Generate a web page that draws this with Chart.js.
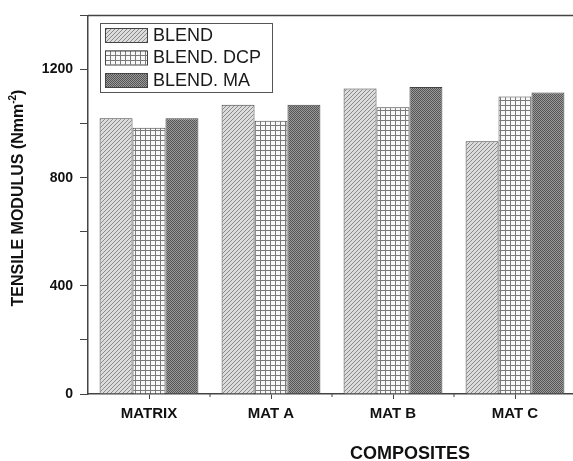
<!DOCTYPE html>
<html><head><meta charset="utf-8">
<script src="https://cdn.jsdelivr.net/npm/chart.js@4/dist/chart.umd.min.js"></script>
<style>html,body{margin:0;padding:0;background:#fff;overflow:hidden;}canvas{display:block;}</style>
</head><body>
<canvas id="c" width="580" height="461"></canvas>
<script>
const categories = ['MATRIX', 'MAT A', 'MAT B', 'MAT C'];
const seriesNames = ['BLEND', 'BLEND. DCP', 'BLEND. MA'];
const blend = [1020, 1070, 1130, 935];
const blendDCP = [985, 1010, 1060, 1100];
const blendMA = [1020, 1070, 1135, 1115];
const yTicks = [0, 400, 800, 1200];
const xTitle = 'COMPOSITES';
const yTitle = 'TENSILE MODULUS (Nmm';
const yTitleSup = '-2';

function makePattern(kind) {
  const c = document.createElement('canvas');
  const ctx = c.getContext('2d');
  if (kind === 'diag') {
    c.width = 4; c.height = 4;
    ctx.fillStyle = '#dcdcdc'; ctx.fillRect(0,0,4,4);
    ctx.strokeStyle = '#8a8a8a'; ctx.lineWidth = 1;
    ctx.beginPath();
    ctx.moveTo(-1,5); ctx.lineTo(5,-1);
    ctx.moveTo(-1,1); ctx.lineTo(1,-1);
    ctx.moveTo(3,5); ctx.lineTo(5,3);
    ctx.stroke();
  } else if (kind === 'grid') {
    c.width = 5; c.height = 5;
    ctx.fillStyle = '#f8f8f8'; ctx.fillRect(0,0,5,5);
    ctx.fillStyle = '#7a7a7a';
    ctx.fillRect(0,0,5,1); ctx.fillRect(0,0,1,5);
  } else {
    c.width = 2; c.height = 2;
    ctx.fillStyle = '#9a9a9a'; ctx.fillRect(0,0,2,2);
    ctx.fillStyle = '#555'; ctx.fillRect(0,0,1,1); ctx.fillRect(1,1,1,1);
  }
  return ctx.createPattern(c, 'repeat');
}
const patterns = [makePattern('diag'), makePattern('grid'), makePattern('dots')];
const FONT = '"Liberation Sans", Arial, sans-serif';

const extras = {
  id: 'extras',
  afterDraw(chart) {
    const ctx = chart.ctx, a = chart.chartArea, xs = chart.scales.x;
    ctx.save();
    ctx.strokeStyle = '#444'; ctx.lineWidth = 1.5;
    ctx.beginPath(); ctx.moveTo(a.left, a.top); ctx.lineTo(a.right, a.top); ctx.stroke();
    ctx.lineWidth = 1;
    const step = xs.getPixelForValue(1) - xs.getPixelForValue(0);
    for (let i = 0; i < categories.length; i++) {
      const px = xs.getPixelForValue(i) + step / 2;
      ctx.beginPath(); ctx.moveTo(px, a.bottom); ctx.lineTo(px, a.bottom + 3); ctx.stroke();
    }
    const lx = 100, ly = 23, lw = 172, lh = 69;
    ctx.fillStyle = '#fff'; ctx.fillRect(lx, ly, lw, lh);
    ctx.strokeStyle = '#555'; ctx.lineWidth = 1;
    ctx.strokeRect(lx + 0.5, ly + 0.5, lw, lh);
    ctx.font = '18px ' + FONT;
    ctx.textBaseline = 'middle'; ctx.textAlign = 'left';
    chart.data.datasets.forEach((ds, i) => {
      const cy = 35 + i * 22.5;
      ctx.fillStyle = ds.backgroundColor;
      ctx.fillRect(105, cy - 7, 42, 14);
      ctx.strokeStyle = '#444';
      ctx.strokeRect(105.5, cy - 6.5, 42, 14);
      ctx.fillStyle = '#1a1a1a';
      ctx.fillText(ds.label, 153, cy + 1);
    });
    ctx.font = 'bold 18px ' + FONT;
    ctx.fillStyle = '#111'; ctx.textAlign = 'center';
    ctx.fillText(xTitle, 410, 454);
    ctx.translate(19, 198);
    ctx.rotate(-Math.PI / 2);
    ctx.font = 'bold 16px ' + FONT;
    const w1 = ctx.measureText(yTitle).width;
    ctx.font = 'bold 10px ' + FONT;
    const w2 = ctx.measureText(yTitleSup).width;
    ctx.font = 'bold 16px ' + FONT;
    const w3 = ctx.measureText(')').width;
    let x0 = -(w1 + w2 + w3) / 2;
    ctx.textAlign = 'left';
    ctx.fillText(yTitle, x0, 0);
    ctx.font = 'bold 10px ' + FONT;
    ctx.fillText(yTitleSup, x0 + w1, -6);
    ctx.font = 'bold 16px ' + FONT;
    ctx.fillText(')', x0 + w1 + w2, 0);
    ctx.restore();
  }
};

new Chart(document.getElementById('c'), {
  type: 'bar',
  data: {
    labels: categories,
    datasets: [blend, blendDCP, blendMA].map((d, i) => ({
      label: seriesNames[i],
      data: d,
      backgroundColor: patterns[i],
      borderColor: '#444',
      borderWidth: 1,
      barPercentage: 1,
      categoryPercentage: 0.81
    }))
  },
  options: {
    responsive: false,
    animation: false,
    layout: { padding: { top: 11, right: 4, left: 0, bottom: 0 } },
    plugins: { legend: { display: false }, tooltip: { enabled: false } },
    scales: {
      x: {
        afterFit(s) { s.height = 67; },
        grid: { offset: false, drawOnChartArea: false, tickLength: 5, color: '#444' },
        border: { color: '#444', width: 1.5 },
        ticks: { font: { family: FONT, size: 15, weight: 'bold' }, color: '#111', padding: 6 }
      },
      y: {
        min: 0, max: 1400,
        afterFit(s) { s.width = 88; },
        grid: { drawOnChartArea: false, tickLength: 8, color: '#444' },
        border: { color: '#444', width: 1.5 },
        ticks: {
          stepSize: 200,
          font: { family: FONT, size: 14, weight: 'bold' },
          color: '#111', padding: 7,
          callback: v => yTicks.includes(v) ? String(v) : ''
        }
      }
    }
  },
  plugins: [extras]
});
</script>
</body></html>
